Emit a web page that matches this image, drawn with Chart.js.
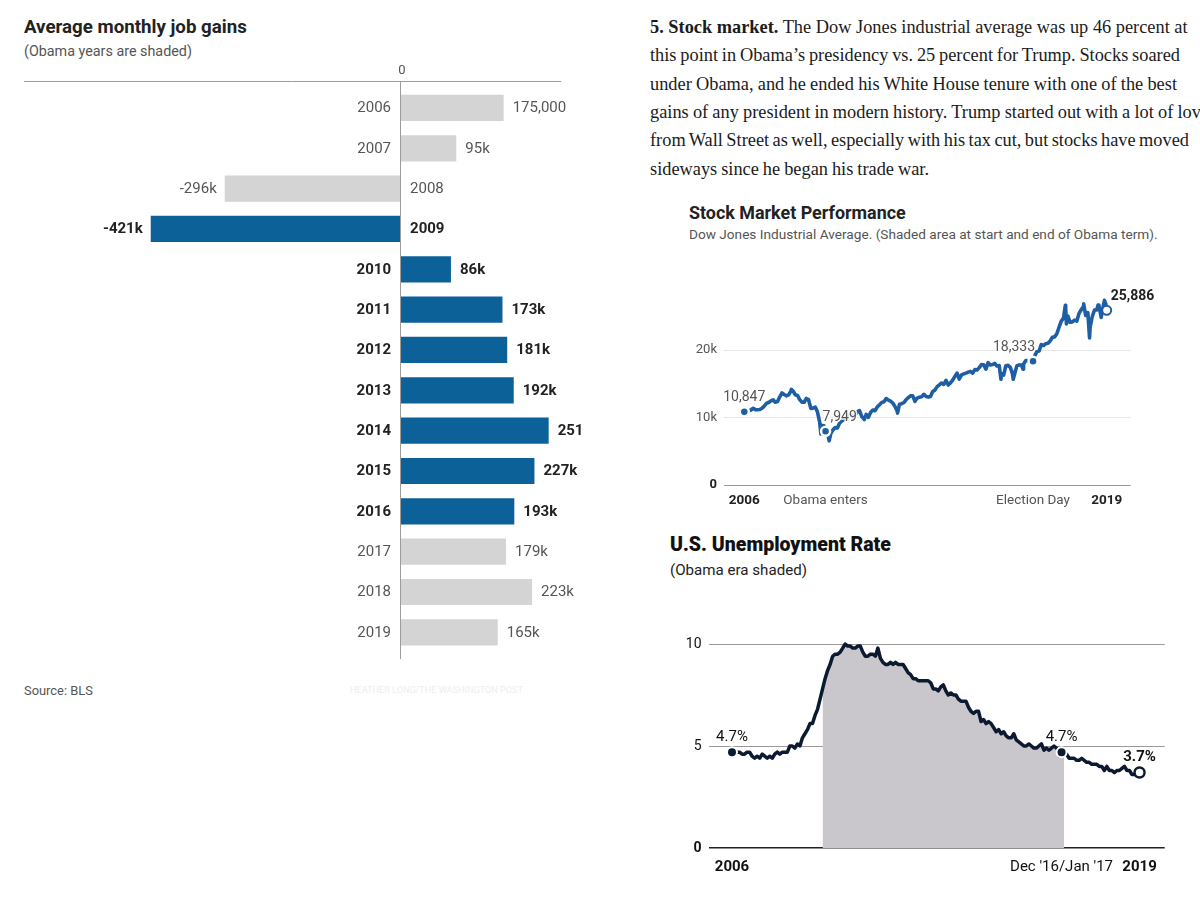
<!DOCTYPE html>
<html><head><meta charset="utf-8">
<script src="https://cdn.jsdelivr.net/npm/chart.js@4.4.1/dist/chart.umd.min.js"></script>
<style>
html,body{margin:0;padding:0;background:#fff;width:1200px;height:907px;overflow:hidden;position:relative;}
.t{position:absolute;white-space:nowrap;line-height:1;transform:translateY(-50%);font-family:Roboto,'Liberation Sans',sans-serif;}
.p{position:absolute;white-space:nowrap;line-height:1;transform:translateY(-50%);font-family:'Liberation Serif','DejaVu Serif',serif;color:#1b1b1b;font-size:18px;left:650px;}
canvas{position:absolute;}
</style></head>
<body>
<div class="t" id="t1" data-w="223" style="left:24px;top:27px;font-size:17px;font-weight:700;color:#222;">Average monthly job gains</div>
<div class="t" id="t2" data-w="168" style="left:24px;top:51px;font-size:14px;color:#555;">(Obama years are shaded)</div>
<div class="t" id="t3" data-w="69" style="left:24px;top:691px;font-size:13px;color:#555;">Source: BLS</div>
<div class="t" id="t4" data-w="173" style="left:350px;top:691px;font-size:13px;color:#eeeeee;">HEATHER LONG/THE WASHINGTON POST</div>

<div id="para"></div>

<div class="t" id="s1" data-w="217" style="left:689px;top:213px;font-size:15px;font-weight:700;color:#222;">Stock Market Performance</div>
<div class="t" id="s2" data-w="469" style="left:689px;top:235px;font-size:12.5px;color:#555;">Dow Jones Industrial Average. (Shaded area at start and end of Obama term).</div>

<div class="t" id="u1" data-w="221" style="left:670px;top:545px;font-size:18px;font-weight:900;color:#111;">U.S. Unemployment Rate</div>
<div class="t" id="u2" data-w="137" style="left:670px;top:571px;font-size:14px;color:#222;">(Obama era shaded)</div>

<canvas id="jobs" width="620" height="700" style="left:0;top:0;width:620px;height:700px;"></canvas>
<canvas id="stock" width="540" height="270" style="left:660px;top:250px;width:540px;height:270px;"></canvas>
<canvas id="unemp" width="540" height="290" style="left:660px;top:600px;width:540px;height:290px;"></canvas>

<script>
// ---------------- DATA ----------------
const paraLines = [
  '<b>5. Stock market.</b> The Dow Jones industrial average was up 46 percent at',
  'this point in Obama\u2019s presidency vs. 25 percent for Trump. Stocks soared',
  'under Obama, and he ended his White House tenure with one of the best',
  'gains of any president in modern history. Trump started out with a lot of love',
  'from Wall Street as well, especially with his tax cut, but stocks have moved',
  'sideways since he began his trade war.'
];
const paraLineY = [27, 55, 83.5, 112, 140, 168.5];
const paraLineW = [538, 530, 527, 559, 539, 279];

// Job gains (thousands)
const jobYears  = ['2006','2007','2008','2009','2010','2011','2012','2013','2014','2015','2016','2017','2018','2019'];
const jobGains  = [175, 95, -296, -421, 86, 173, 181, 192, 251, 227, 193, 179, 223, 165];
const jobLabels = ['175,000','95k','-296k','-421k','86k','173k','181k','192k','251','227k','193k','179k','223k','165k'];
const jobObama  = [0,0,0,1,1,1,1,1,1,1,1,0,0,0];
const jobAxisMin = -635, jobAxisMax = 337.7, jobRuleMax = 272;

// Dow Jones month-end closes, Jan 2006 .. Jul 2019
const dowMonthly = [
 10865,10993,11109,11367,11168,11150,11186,11381,11679,12081,12222,12463,
 12622,12269,12354,13063,13628,13409,13212,13358,13896,13930,13372,13265,
 12650,12266,12263,12820,12638,11350,11378,11544,10851,9325,8829,8776,
 8001,7063,7609,8168,8500,8447,9172,9496,9712,9713,10345,10428,
 10067,10325,10857,11009,10137,9774,10466,10015,10788,11119,11006,11578,
 11892,12226,12320,12811,12570,12414,12143,11614,10913,11955,12046,12218,
 12633,12952,13212,13214,12393,12880,13009,13091,13437,13096,13026,13104,
 13861,14054,14579,14840,15116,14910,15500,14810,15130,15546,16086,16577,
 15699,16322,16458,16581,16717,16827,16563,17098,17043,17391,17828,17823,
 17165,18133,17776,17841,18011,17620,17690,16528,16285,17664,17720,17425,
 16466,16517,17685,17774,17787,17930,18432,18401,18308,18142,19124,19763,
 19864,20812,20663,20941,21009,21350,21891,21948,22405,23377,24272,24719,
 26149,25029,24103,24163,24416,24271,25415,25965,26458,25116,25539,23327,
 25000,25916,25929,26593,24815,26600,26864
];
const dowExtremeDates  = [2007.77, 2008.88, 2009.19, 2010.51, 2011.76, 2015.65, 2016.11, 2016.48, 2018.07, 2018.11, 2018.76, 2018.98, 2019.30, 2019.54, 2019.593];
const dowExtremeValues = [14165, 7552, 6547, 9686, 10655, 15666, 15660, 17140, 26617, 23860, 26828, 21792, 26656, 27359, 25718];
const dowKeyDates  = [2006.0, 2009.055, 2016.855, 2019.625];
const dowKeyValues = [10847, 7949, 18333, 25886];
const dowKeyLabels = ['10,847', '7,949', '18,333', '25,886'];
const dowTickPos    = [2006, 2009.055, 2016.855, 2019.625];
const dowTickLabels = ['2006', 'Obama enters', 'Election Day', '2019'];
const dowTickBold   = [1, 0, 0, 1];
const dowYTicks  = [0, 10000, 20000];
const dowYLabels = ['0', '10k', '20k'];

// Unemployment rate, Jan 2006 .. Jul 2019 (monthly)
const unempRate = [
 4.7,4.8,4.7,4.7,4.6,4.6,4.7,4.7,4.5,4.4,4.5,4.4,
 4.6,4.5,4.4,4.5,4.4,4.6,4.7,4.6,4.7,4.7,4.7,5.0,
 5.0,4.9,5.1,5.0,5.4,5.6,5.8,6.1,6.1,6.5,6.8,7.3,
 7.8,8.3,8.7,9.0,9.4,9.5,9.5,9.6,9.8,10.0,9.9,9.9,
 9.8,9.8,9.9,9.9,9.6,9.4,9.4,9.5,9.5,9.4,9.8,9.3,
 9.1,9.0,9.0,9.1,9.0,9.1,9.0,9.0,9.0,8.8,8.6,8.5,
 8.3,8.3,8.2,8.2,8.2,8.2,8.2,8.1,7.8,7.8,7.7,7.9,
 8.0,7.7,7.5,7.6,7.5,7.5,7.3,7.2,7.2,7.2,6.9,6.7,
 6.6,6.7,6.7,6.2,6.3,6.1,6.2,6.1,5.9,5.7,5.8,5.6,
 5.7,5.5,5.4,5.4,5.6,5.3,5.2,5.1,5.0,5.0,5.1,5.0,
 4.9,4.9,5.0,5.1,4.8,4.9,4.8,4.9,5.0,4.9,4.7,4.7,
 4.7,4.6,4.4,4.4,4.4,4.3,4.3,4.4,4.3,4.2,4.2,4.1,
 4.1,4.1,4.0,4.0,3.8,4.0,3.8,3.8,3.7,3.8,3.8,3.9,
 4.0,3.8,3.8,3.6,3.6,3.7,3.7
];
const obamaStartIdx = 36, obamaEndIdx = 132;
const unempKeyIdx    = [0, 131, 162];
const unempKeyLabels = ['4.7%', '4.7%', '3.7%'];
const unempKeyBold   = [0, 0, 1];
const unempTickLabels = ['2006', "Dec '16/Jan '17", '2019'];
const unempTickBold   = [1, 0, 1];
const unempYTicks  = [0, 5, 10];
const unempYLabels = ['0', '5', '10'];

// ---------------- TEXT LAYOUT ----------------
const para = document.getElementById('para');
paraLines.forEach((l, i) => {
  const d = document.createElement('div');
  d.className = 'p'; d.style.top = paraLineY[i] + 'px'; d.innerHTML = l;
  para.appendChild(d);
});
function fit(el, w) {
  const fs = parseFloat(getComputedStyle(el).fontSize);
  const cur = el.getBoundingClientRect().width;
  if (cur > 0) el.style.fontSize = (fs * w / cur) + 'px';
}
const lines = Array.from(para.children);
fit(lines[0], paraLineW[0]);
const pfs = lines[0].style.fontSize;
lines.forEach(c => c.style.fontSize = pfs);
lines.forEach((c, i) => {
  if (i === 0) return;
  const spaces = (c.textContent.match(/ /g) || []).length;
  const cur = c.getBoundingClientRect().width;
  c.style.wordSpacing = ((paraLineW[i] - cur) / spaces) + 'px';
});
document.querySelectorAll('.t[data-w]').forEach(el => fit(el, +el.dataset.w));

Chart.defaults.font.family = 'Roboto';
Chart.defaults.animation = false;

// ---------------- JOB GAINS BAR CHART ----------------
const BLUE = '#0d6199', GREY = '#d4d4d4';
const jobLabelPlugin = {
  id: 'jobLabels',
  afterDatasetsDraw(chart) {
    const { ctx, scales: { x } } = chart;
    const x0 = x.getPixelForValue(0);
    ctx.save();
    ctx.strokeStyle = '#9c9c9c'; ctx.lineWidth = 1;
    ctx.beginPath();
    ctx.moveTo(x.getPixelForValue(jobAxisMin), 81.5); ctx.lineTo(x.getPixelForValue(jobRuleMax), 81.5);
    ctx.moveTo(Math.round(x0) + 0.5, 81); ctx.lineTo(Math.round(x0) + 0.5, 659);
    ctx.stroke();
    ctx.fillStyle = '#555'; ctx.font = '13px Roboto'; ctx.textAlign = 'center'; ctx.textBaseline = 'middle';
    ctx.fillText('0', x0 + 2, 70.5);
    const meta = chart.getDatasetMeta(0);
    meta.data.forEach((bar, i) => {
      const v = jobGains[i];
      const bold = jobObama[i];
      ctx.font = (bold ? 'bold ' : '') + '15px Roboto';
      ctx.fillStyle = bold ? '#222' : '#555';
      const yy = bar.y + 0.5;
      const xe = x.getPixelForValue(v);
      if (v >= 0) {
        ctx.textAlign = 'right'; ctx.fillText(jobYears[i], x0 - 9, yy);
        ctx.textAlign = 'left'; ctx.fillText(jobLabels[i], xe + 9, yy);
      } else {
        ctx.textAlign = 'left'; ctx.fillText(jobYears[i], x0 + 10, yy);
        ctx.textAlign = 'right'; ctx.fillText(jobLabels[i], xe - 8, yy);
      }
    });
    ctx.restore();
  }
};
new Chart(document.getElementById('jobs'), {
  type: 'bar',
  data: { labels: jobYears, datasets: [{
    data: jobGains,
    backgroundColor: jobObama.map(o => o ? BLUE : GREY),
    borderWidth: 0, barPercentage: 0.65, categoryPercentage: 1
  }]},
  options: {
    indexAxis: 'y', responsive: false, animation: false,
    layout: { padding: { left: 24, right: 20, top: 87.8, bottom: 47.5 } },
    plugins: { legend: { display: false }, tooltip: { enabled: false } },
    scales: {
      x: { display: false, min: jobAxisMin, max: jobAxisMax },
      y: { display: false }
    }
  },
  plugins: [jobLabelPlugin]
});

// ---------------- STOCK LINE CHART ----------------
const SBLUE = '#1d5ea4';
const dowPts = dowMonthly.map((v, i) => ({ x: 2006 + (i + 1) / 12, y: v }))
  .concat(dowExtremeDates.map((d, i) => ({ x: d, y: dowExtremeValues[i] })))
  .concat(dowKeyDates.map((d, i) => ({ x: d, y: dowKeyValues[i] })))
  .sort((a, b) => a.x - b.x);
const dowKeyPts = dowKeyDates.map((d, i) => ({ x: d, y: dowKeyValues[i] }));
function haloText(ctx, txt, x, y) {
  ctx.save(); ctx.strokeStyle = 'rgba(255,255,255,0.9)'; ctx.lineWidth = 3; ctx.lineJoin = 'round';
  ctx.strokeText(txt, x, y); ctx.restore(); ctx.fillText(txt, x, y);
}
const stockLabelPlugin = {
  id: 'stockLabels',
  afterDatasetsDraw(chart) {
    const { ctx } = chart;
    const meta = chart.getDatasetMeta(0);
    ctx.save(); ctx.textBaseline = 'middle';
    const spec = [
      { align: 'center', dx: 0, dy: -14, bold: 0 },
      { align: 'left', dx: -3, dy: -14, bold: 0 },
      { align: 'right', dx: 2, dy: -14, bold: 0 },
      { align: 'left', dx: 4, dy: -14, bold: 1 }
    ];
    meta.data.forEach((p, i) => {
      const s = spec[i];
      ctx.font = (s.bold ? 'bold ' : '') + '14px Roboto';
      ctx.fillStyle = s.bold ? '#222' : '#555';
      ctx.textAlign = s.align;
      haloText(ctx, dowKeyLabels[i], p.x + s.dx, p.y + s.dy);
    });
    ctx.restore();
  }
};
new Chart(document.getElementById('stock'), {
  type: 'line',
  data: { datasets: [
    { data: dowKeyPts, showLine: false, pointRadius: 4.5, pointHoverRadius: 4.5,
      pointBackgroundColor: [SBLUE, SBLUE, SBLUE, '#fff'],
      pointBorderColor: ['#fff', '#fff', '#fff', SBLUE], pointBorderWidth: [2.5, 2.5, 2.5, 2], order: 0 },
    { data: dowPts, borderColor: SBLUE, borderWidth: 3.6, pointRadius: 0, tension: 0, borderJoinStyle: 'round', order: 1 }
  ]},
  options: {
    responsive: false, animation: false,
    layout: { padding: { top: 40, right: 69.3, left: 0, bottom: 0 } },
    plugins: { legend: { display: false }, tooltip: { enabled: false } },
    scales: {
      x: { type: 'linear', min: 2005.237, max: 2020.527,
        grid: { display: false, drawTicks: false }, border: { display: false },
        afterBuildTicks(s) { s.ticks = dowTickPos.map(v => ({ value: v })); },
        afterFit(s) { s.height = 35; },
        ticks: { autoSkip: false, maxRotation: 0, padding: 8,
          color: c => dowTickBold[c.index] ? '#222' : '#555',
          font: c => ({ family: 'Roboto', size: 13.5, weight: dowTickBold[c.index] ? 'bold' : 'normal' }),
          callback: (v, i) => dowTickLabels[i] } },
      y: { min: 0, max: 28889,
        afterBuildTicks(s) { s.ticks = dowYTicks.map(v => ({ value: v })); },
        afterFit(s) { s.width = 64; },
        grid: { drawTicks: false, color: c => c.tick && c.tick.value === 0 ? '#9a9a9a' : '#e6e6eb', lineWidth: 1 },
        border: { display: false },
        ticks: { padding: 7, color: c => c.index === 0 ? '#222' : '#555',
          font: c => ({ family: 'Roboto', size: 13, weight: c.index === 0 ? 'bold' : 'normal' }),
          callback: (v, i) => dowYLabels[i] } }
    }
  },
  plugins: [stockLabelPlugin]
});

// ---------------- UNEMPLOYMENT CHART ----------------
const NAVY = '#0c1a31';
const unempPts = unempRate.map((v, i) => ({ x: i, y: v }));
const unempShade = unempRate.map((v, i) => ({ x: i, y: (i >= obamaStartIdx && i <= obamaEndIdx) ? v : null }));
const unempKeyPts = unempKeyIdx.map(i => ({ x: i, y: unempRate[i] }));
const unempLabelPlugin = {
  id: 'unempLabels',
  afterDatasetsDraw(chart) {
    const { ctx } = chart;
    const meta = chart.getDatasetMeta(0);
    ctx.save(); ctx.textBaseline = 'middle'; ctx.textAlign = 'center';
    meta.data.forEach((p, i) => {
      ctx.font = (unempKeyBold[i] ? 'bold ' : '') + '15px Roboto';
      ctx.fillStyle = '#111';
      ctx.fillText(unempKeyLabels[i], p.x, p.y - 15);
    });
    ctx.restore();
  }
};
new Chart(document.getElementById('unemp'), {
  type: 'line',
  data: { datasets: [
    { data: unempKeyPts, showLine: false, pointRadius: 5, pointHoverRadius: 5,
      pointBackgroundColor: [NAVY, NAVY, '#fff'], pointBorderColor: ['#fff', '#fff', NAVY],
      pointBorderWidth: [2, 2, 2.5], order: 0 },
    { data: unempPts, borderColor: NAVY, borderWidth: 3.5, pointRadius: 0, tension: 0, borderJoinStyle: 'round', order: 1 },
    { data: unempShade, borderWidth: 0, pointRadius: 0, fill: 'origin', backgroundColor: '#c9c7cc', spanGaps: false, order: 2 }
  ]},
  options: {
    responsive: false, animation: false,
    layout: { padding: { top: 27.7, right: 35.3, left: 0, bottom: 0 } },
    plugins: { legend: { display: false }, tooltip: { enabled: false }, filler: { propagate: false } },
    scales: {
      x: { type: 'linear', min: -9.34, max: 172.0,
        grid: { display: false, drawTicks: false }, border: { display: false },
        afterBuildTicks(s) { s.ticks = unempKeyIdx.map(v => ({ value: v })); },
        afterFit(s) { s.height = 42; },
        ticks: { autoSkip: false, maxRotation: 0, padding: 10, color: '#111',
          font: c => ({ family: 'Roboto', size: 15, weight: unempTickBold[c.index] ? 'bold' : 'normal' }),
          callback: (v, i) => unempTickLabels[i] } },
      y: { min: 0, max: 10.8,
        afterBuildTicks(s) { s.ticks = unempYTicks.map(v => ({ value: v })); },
        afterFit(s) { s.width = 48.5; },
        grid: { drawTicks: false, color: c => c.tick && c.tick.value === 0 ? '#222' : '#9a9a9a',
          lineWidth: c => c.tick && c.tick.value === 0 ? 1.5 : 1 },
        border: { display: false },
        ticks: { padding: 7, color: '#111',
          font: c => ({ family: 'Roboto', size: 14, weight: c.index === 0 ? 'bold' : 'normal' }),
          callback: (v, i) => unempYLabels[i] } }
    }
  },
  plugins: [unempLabelPlugin]
});
</script>
</body></html>
